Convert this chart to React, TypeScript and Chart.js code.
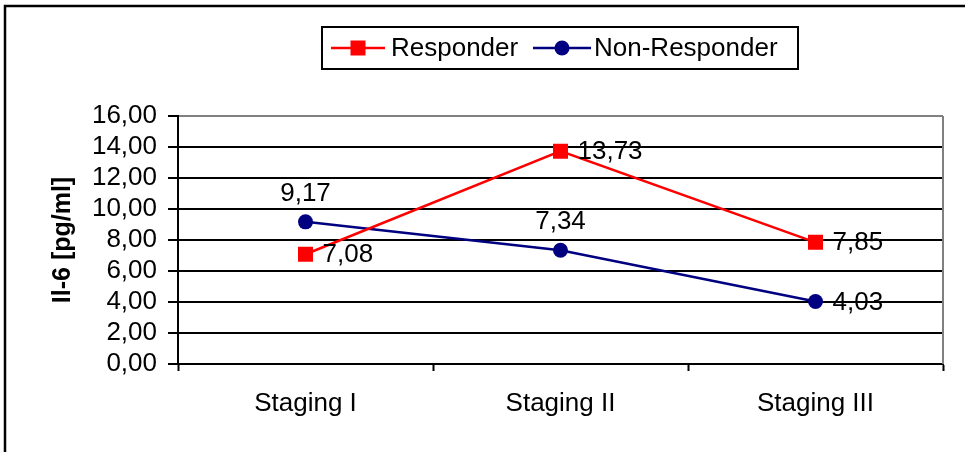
import React, { useEffect, useRef } from "react";
import { Chart, registerables } from "chart.js";

Chart.register(...registerables);

// Chart data
const categories = ["Staging I", "Staging II", "Staging III"];
const responder = [7.08, 13.73, 7.85];
const nonResponder = [9.17, 7.34, 4.03];
const responderLabelSide = ["right", "right", "right"];
const nonResponderLabelSide = ["above", "above", "right"];
const yMin = 0;
const yMax = 16;
const yStep = 2;
const yTitle = "Il-6 [pg/ml]";

const FONT = "'Liberation Sans', Arial, Helvetica, sans-serif";
const FS = 26;
const RED = "#FF0000";
const NAVY = "#000080";

const fmt = (v: number) => v.toFixed(2).replace(".", ",");

const decorPlugin = {
  id: "decor",
  beforeDatasetsDraw(chart: any) {
    const { ctx, chartArea } = chart;
    ctx.save();
    // plot frame right edge
    ctx.strokeStyle = "#808080";
    ctx.lineWidth = 2;
    ctx.beginPath();
    ctx.moveTo(chartArea.right, chartArea.top);
    ctx.lineTo(chartArea.right, chartArea.bottom);
    ctx.stroke();
    ctx.restore();
  },
  afterDatasetsDraw(chart: any) {
    const { ctx } = chart;
    ctx.save();
    ctx.font = `${FS}px ${FONT}`;
    ctx.fillStyle = "#000";
    const sides = [responderLabelSide, nonResponderLabelSide];
    chart.data.datasets.forEach((ds: any, di: number) => {
      const meta = chart.getDatasetMeta(di);
      meta.data.forEach((pt: any, i: number) => {
        const text = fmt(ds.data[i]);
        if (sides[di][i] === "above") {
          ctx.textAlign = "center";
          ctx.textBaseline = "middle";
          ctx.fillText(text, pt.x, pt.y - 28);
        } else {
          ctx.textAlign = "left";
          ctx.textBaseline = "middle";
          ctx.fillText(text, pt.x + 17, pt.y + 1);
        }
      });
    });
    ctx.restore();
  },
  afterDraw(chart: any) {
    const { ctx } = chart;
    ctx.save();
    // outer frame
    ctx.strokeStyle = "#000";
    ctx.lineWidth = 2.5;
    ctx.beginPath();
    ctx.moveTo(5, 452);
    ctx.lineTo(5, 6);
    ctx.lineTo(965, 6);
    ctx.stroke();

    // legend box
    ctx.lineWidth = 2;
    ctx.strokeRect(322, 27, 476, 42);
    const ly = 48;
    ctx.font = `${FS}px ${FONT}`;
    ctx.textBaseline = "middle";
    ctx.textAlign = "left";

    ctx.strokeStyle = RED;
    ctx.lineWidth = 2.5;
    ctx.beginPath();
    ctx.moveTo(331, ly);
    ctx.lineTo(385, ly);
    ctx.stroke();
    ctx.fillStyle = RED;
    ctx.fillRect(358 - 7.5, ly - 7.5, 15, 15);
    ctx.fillStyle = "#000";
    ctx.fillText(chart.data.datasets[0].label, 391, ly + 1);

    ctx.strokeStyle = NAVY;
    ctx.beginPath();
    ctx.moveTo(533, ly);
    ctx.lineTo(591, ly);
    ctx.stroke();
    ctx.fillStyle = NAVY;
    ctx.beginPath();
    ctx.arc(562, ly, 7.5, 0, Math.PI * 2);
    ctx.fill();
    ctx.fillStyle = "#000";
    ctx.fillText(chart.data.datasets[1].label, 594, ly + 1);
    ctx.restore();
  },
};

export default function App() {
  const canvasRef = useRef<HTMLCanvasElement | null>(null);

  useEffect(() => {
    if (!canvasRef.current) return;
    const chart = new Chart(canvasRef.current, {
      type: "line",
      data: {
        labels: categories,
        datasets: [
          {
            label: "Responder",
            data: responder,
            borderColor: RED,
            backgroundColor: RED,
            borderWidth: 2.5,
            pointStyle: "rect",
            pointRadius: 10.6,
            pointBorderWidth: 0,
            pointBackgroundColor: RED,
            tension: 0,
          },
          {
            label: "Non-Responder",
            data: nonResponder,
            borderColor: NAVY,
            backgroundColor: NAVY,
            borderWidth: 2.5,
            pointStyle: "circle",
            pointRadius: 7.5,
            pointBorderWidth: 0,
            pointBackgroundColor: NAVY,
            tension: 0,
          },
        ],
      },
      options: {
        responsive: false,
        animation: false,
        layout: { padding: { left: 0, right: 22, top: 116, bottom: 0 } },
        plugins: {
          legend: { display: false },
          tooltip: { enabled: false },
        },
        scales: {
          x: {
            type: "category",
            offset: true,
            grid: {
              offset: true,
              drawOnChartArea: false,
              drawTicks: true,
              tickLength: 7,
              tickColor: "#000",
              tickWidth: 2,
            },
            border: { color: "#000", width: 2 },
            ticks: {
              color: "#000",
              font: { family: FONT, size: FS },
              padding: 17,
              maxRotation: 0,
              autoSkip: false,
            },
            afterFit(scale: any) {
              scale.height = 88;
            },
          },
          y: {
            min: yMin,
            max: yMax,
            ticks: {
              stepSize: yStep,
              autoSkip: false,
              color: "#000",
              font: { family: FONT, size: FS },
              padding: 11,
              callback: (v: any) => fmt(Number(v)),
            },
            grid: {
              color: (c: any) => (c.tick && c.tick.value === yMax ? "#808080" : "#000"),
              lineWidth: 2,
              drawTicks: true,
              tickLength: 10,
              tickColor: "#000",
              tickWidth: 2,
            },
            border: { color: "#000", width: 2 },
            title: {
              display: true,
              text: yTitle,
              color: "#000",
              font: { family: FONT, size: 25, weight: "bold" },
              padding: { top: 48, bottom: 0 },
            },
            afterFit(scale: any) {
              scale.width = 178;
            },
          },
        },
      },
      plugins: [decorPlugin],
    });
    return () => chart.destroy();
  }, []);

  return (
    <div style={{ position: "fixed", left: 0, top: 0, width: 965, height: 452, background: "#fff" }}>
      <canvas ref={canvasRef} width={965} height={452} />
    </div>
  );
}
